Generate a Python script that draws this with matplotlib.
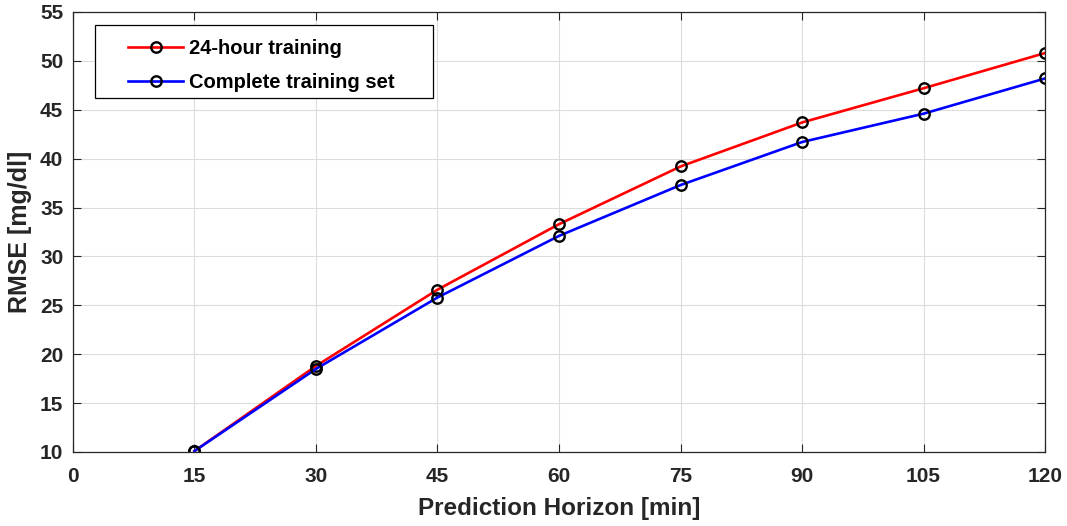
import matplotlib
matplotlib.use('Agg')
import matplotlib.pyplot as plt
from matplotlib import rcParams
from matplotlib.patches import Rectangle

rcParams['font.family'] = ['Liberation Sans', 'DejaVu Sans']
rcParams['font.weight'] = 'bold'

horizon = [15, 30, 45, 60, 75, 90, 105, 120]
rmse_24h = [10.1, 18.8, 26.6, 33.3, 39.2, 43.7, 47.2, 50.8]
rmse_full = [10.1, 18.5, 25.8, 32.1, 37.3, 41.7, 44.6, 48.2]
labels = ['24-hour training', 'Complete training set']

x_ticks = [0, 15, 30, 45, 60, 75, 90, 105, 120]
y_ticks = [10, 15, 20, 25, 30, 35, 40, 45, 50, 55]

dark = '#262626'

fig = plt.figure(figsize=[10.67, 5.26], dpi=100)
ax = fig.add_axes([0.0684, 0.1407, 0.9110, 0.8365])

ax.plot(horizon, rmse_24h, c='#ff0000', lw=1.9, marker='o', ms=7.5,
        mfc='none', mec='k', mew=1.7, label=labels[0])
ax.plot(horizon, rmse_full, c='#0000ff', lw=1.9, marker='o', ms=7.5,
        mfc='none', mec='k', mew=1.7, label=labels[1])

ax.set_xlim(0, 120)
ax.set_ylim(10, 55)
ax.set_xticks(x_ticks)
ax.set_yticks(y_ticks)
ax.grid(True, color='#dcdcdc', lw=0.8)
ax.set_axisbelow(True)

ax.tick_params(direction='in', length=6, width=0.8, colors=dark,
               labelsize=15, top=True, right=True, pad=7)
ax.tick_params(axis='x', pad=11)
for s in ax.spines.values():
    s.set_color(dark)
    s.set_linewidth(0.9)

ax.set_xlabel('Prediction Horizon [min]', fontsize=17.5, color=dark,
              fontweight='bold', labelpad=8)
ax.set_ylabel('RMSE [mg/dl]', fontsize=18, color=dark,
              fontweight='bold', labelpad=6)

# legend box drawn separately (MATLAB style padding)
box = Rectangle((0.0226, 0.8045), 0.3477, 0.1659, transform=ax.transAxes,
                fc='white', ec='k', lw=0.9, zorder=4)
ax.add_patch(box)
leg = ax.legend(loc='upper left', bbox_to_anchor=(0.0566, 0.9375),
                fontsize=14.5, frameon=False, handlelength=2.74,
                borderpad=0, labelspacing=0.72, handletextpad=0.3,
                borderaxespad=0)
leg.set_zorder(5)
for t in leg.get_texts():
    t.set_color('k')

plt.savefig('out.png', dpi=100)
